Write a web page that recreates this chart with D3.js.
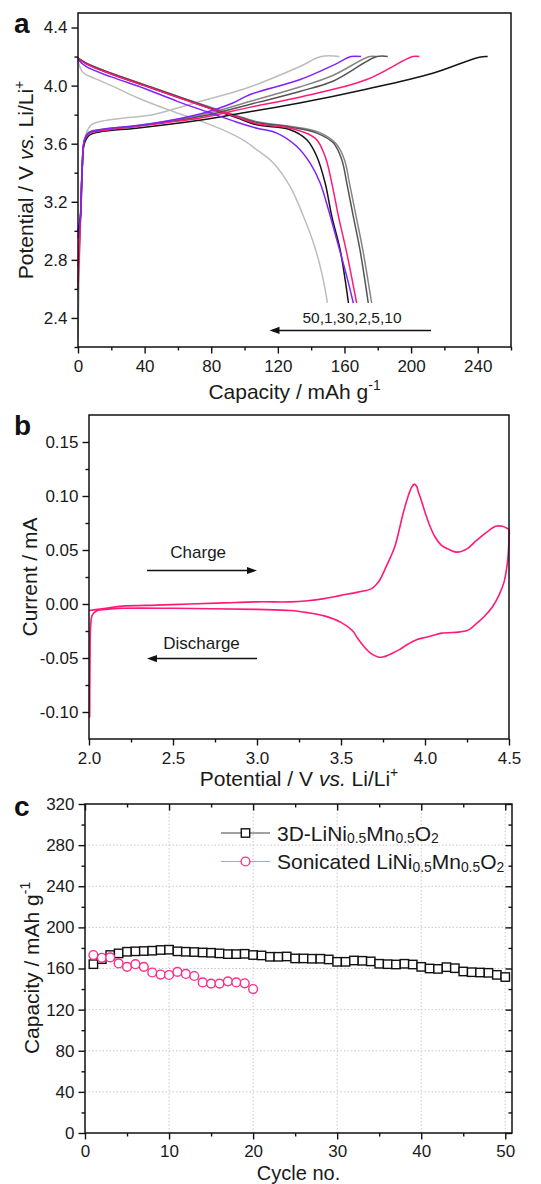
<!DOCTYPE html>
<html>
<head>
<meta charset="utf-8">
<script src="https://cdn.jsdelivr.net/npm/d3@7"></script>
<style>
  body { margin: 0; background: #fff; }
  svg { display: block; font-family: "Liberation Sans", Arial, Helvetica, sans-serif; }
</style>
</head>
<body>
<svg id="fig" width="541" height="1184"></svg>
<script>
// ---------- (a) galvanostatic charge/discharge profiles: [capacity mAh/g, potential V] ----------
const cycleOrderLabel = "50,1,30,2,5,10";

const charge1  = [[0,3.0],[1.5,3.1],[2.5,3.42],[3.8,3.6],[7,3.66],[15,3.685],[35,3.707],[75,3.765],[103,3.82],[133,3.88],[173,3.975],[213,4.085],[241,4.196],[246,4.2]];
const charge2  = [[0,2.6],[1.5,3.07],[2.5,3.42],[3.8,3.62],[6.5,3.67],[15,3.69],[35,3.72],[53,3.745],[75,3.78],[103,3.85],[133,3.92],[173,4.04],[201,4.2],[205,4.2]];
const charge5  = [[0,2.75],[1.5,3.1],[2.5,3.42],[3.8,3.62],[6.5,3.675],[15,3.695],[35,3.72],[75,3.79],[103,3.87],[133,3.96],[153,4.03],[179.5,4.2],[186,4.2]];
const charge10 = [[0,2.65],[1.5,3.1],[2.5,3.42],[3.8,3.62],[6.5,3.68],[15,3.70],[35,3.725],[75,3.80],[103,3.89],[133,3.99],[153,4.07],[175,4.2],[179,4.2]];
const charge30 = [[0,2.95],[1.5,3.1],[2.5,3.42],[3.8,3.62],[6.4,3.673],[15,3.70],[35,3.723],[55,3.76],[75,3.81],[93,3.88],[103,3.937],[133,4.04],[155,4.15],[164,4.2],[170,4.2]];
const charge50 = [[0,2.25],[1.5,3.1],[2.8,3.5],[4.5,3.66],[8,3.73],[14,3.755],[30,3.78],[45,3.80],[70,3.88],[103,3.99],[133,4.13],[146,4.2],[157,4.2]];

const discharge1  = [[0,4.19],[5,4.15],[20,4.08],[40,4.0],[60,3.92],[80,3.84],[95,3.78],[107.4,3.73],[127.4,3.696],[137.4,3.627],[143.4,3.512],[148.4,3.329],[152.4,3.099],[157.4,2.87],[162.4,2.503]];
const discharge2  = [[0,4.19],[5,4.15],[20,4.08],[40,4.0],[60,3.92],[80,3.84],[95,3.785],[107.4,3.737],[127.4,3.707],[142.4,3.638],[148.4,3.512],[152.4,3.329],[156.4,3.099],[161.4,2.847],[167.3,2.503]];
const discharge5  = [[0,4.19],[5,4.155],[20,4.085],[40,4.005],[60,3.925],[80,3.845],[95,3.79],[107.4,3.746],[127.4,3.714],[143.4,3.673],[153.4,3.604],[158.4,3.489],[161.4,3.329],[165.3,3.099],[169.3,2.87],[174.3,2.503]];
const discharge10 = [[0,4.19],[5,4.155],[20,4.085],[40,4.005],[60,3.925],[80,3.85],[95,3.795],[107.4,3.751],[127.4,3.72],[144.5,3.68],[155,3.60],[160,3.49],[163,3.329],[167,3.099],[171,2.87],[176.3,2.503]];
const discharge30 = [[0,4.18],[5,4.13],[20,4.06],[40,3.98],[60,3.89],[80,3.81],[95,3.75],[107.4,3.707],[119.4,3.673],[131.4,3.581],[139.4,3.466],[145.4,3.329],[150.4,3.145],[155.4,2.938],[161.4,2.686],[165.3,2.503]];
const discharge50 = [[0,4.17],[3,4.09],[10,4.05],[20,4.0],[35,3.92],[55,3.83],[75,3.75],[90,3.68],[100,3.62],[107.4,3.558],[117.4,3.466],[127.4,3.305],[135.4,3.099],[141.4,2.916],[146.4,2.709],[149.8,2.503]];

const capacityTicksA = [0, 40, 80, 120, 160, 200, 240];
const capacityMinorA = [20, 60, 100, 140, 180, 220, 260];
const potentialTicksA = [2.4, 2.8, 3.2, 3.6, 4.0, 4.4];
const potentialMinorA = [2.2, 2.6, 3.0, 3.4, 3.8, 4.2];

// ---------- (b) cyclic voltammogram: potential V, current mA (one closed scan) ----------
const cvPotential = [2.000,2.05,2.1,2.2,2.4,2.6,2.8,3.0,3.2,3.3,3.4,3.5,3.6,3.68,3.71,3.73,3.77,3.82,3.87,3.9,3.92,3.936,3.95,3.96,3.98,4.0,4.03,4.06,4.1,4.15,4.19,4.25,4.3,4.33,4.38,4.42,4.46,4.49,4.5,
                     4.5,4.495,4.485,4.47,4.44,4.4,4.35,4.3,4.26,4.24,4.2,4.1,4.05,4.0,3.95,3.9,3.85,3.8,3.75,3.72,3.68,3.64,3.6,3.57,3.5,3.4,3.3,3.2,3.0,2.5,2.2,2.1,2.05,2.02,2.01,2.006,2.004];
const cvCurrent   = [-0.006,-0.005,-0.004,-0.002,-0.001,0.000,0.001,0.002,0.002,0.003,0.005,0.008,0.011,0.014,0.018,0.022,0.035,0.053,0.084,0.100,0.108,0.111,0.109,0.104,0.095,0.085,0.072,0.062,0.054,0.050,0.048,0.051,0.058,0.062,0.068,0.072,0.072,0.070,0.069,
                     0.060,0.045,0.032,0.020,0.008,-0.003,-0.012,-0.019,-0.024,-0.025,-0.026,-0.027,-0.029,-0.031,-0.033,-0.037,-0.042,-0.046,-0.049,-0.049,-0.046,-0.040,-0.032,-0.025,-0.017,-0.011,-0.008,-0.006,-0.005,-0.004,-0.004,-0.005,-0.006,-0.010,-0.020,-0.050,-0.105];

const potentialTicksB = [2.0, 2.5, 3.0, 3.5, 4.0, 4.5];
const potentialMinorB = [2.25, 2.75, 3.25, 3.75, 4.25];
const currentTicksB = [-0.10, -0.05, 0.00, 0.05, 0.10, 0.15];
const currentMinorB = [-0.075, -0.025, 0.025, 0.075, 0.125];

// ---------- (c) cycling performance ----------
const cycles3D = d3.range(1, 51);
const capacity3D = [164.2,169.1,173.1,174.7,176.3,176.7,177.0,177.3,178.0,178.3,
                    176.7,176.3,176.0,175.6,175.3,174.7,174.0,174.0,174.3,173.1,
                    172.7,171.4,171.4,171.7,169.8,169.8,169.5,169.5,168.8,166.5,
                    166.5,167.8,167.5,166.9,164.6,164.2,163.9,164.6,163.9,161.6,
                    160.0,159.6,161.3,160.3,157.1,156.4,156.1,155.8,153.8,151.7];
const cyclesSonic = d3.range(1, 21);
const capacitySonic = [173.1,170.4,170.8,164.9,161.6,164.2,161.6,156.1,154.1,153.7,
                       156.7,154.7,152.7,146.5,145.3,145.3,147.5,146.5,145.6,140.0];
const cycleTicksC = [0, 10, 20, 30, 40, 50];
const cycleMinorC = [5, 15, 25, 35, 45];
const capacityTicksC = [0, 40, 80, 120, 160, 200, 240, 280, 320];
const capacityMinorC = [20, 60, 100, 140, 180, 220, 260, 300];

// ---------- drawing ----------
const svg = d3.select("#fig");
const TICK_FS = 17, TITLE_FS = 21;
const cyclePalette = { "1": "#141414", "2": "#ff1a78", "5": "#545454", "10": "#858585", "30": "#7f22ff", "50": "#bdbdbd" };
const pink = "#ff1a78";

// text with super/subscript pieces
function rich(sel, parts, fs) {
  let cur = 0;
  parts.forEach(p => {
    const target = p.sup ? -0.42 * fs : p.sub ? 0.14 * fs : 0;
    const ts = sel.append("tspan").text(p.t).attr("dy", target - cur);
    cur = target;
    if (p.sup || p.sub) ts.attr("font-size", fs * 0.66);
    if (p.it) ts.attr("font-style", "italic");
  });
  return sel;
}

function axes(g, x, y, o) {
  const [xl, xr] = x.range(), [yb, yt] = y.range();
  if (o.grid) {
    const gg = g.append("g").attr("stroke", "#c8c8c8").attr("stroke-width", 1).attr("stroke-dasharray", "1.5,2");
    gg.selectAll(".gx").data(o.xMajor.filter(v => x(v) > xl + 1 && x(v) < xr - 1)).join("line")
      .attr("x1", d => x(d)).attr("x2", d => x(d)).attr("y1", yb).attr("y2", yt);
    gg.selectAll(".gy").data(o.yMajor.filter(v => y(v) < yb - 1 && y(v) > yt + 1)).join("line")
      .attr("y1", d => y(d)).attr("y2", d => y(d)).attr("x1", xl).attr("x2", xr);
  }
  const bx = g.append("g").attr("transform", `translate(0,${yb})`);
  bx.append("g").call(d3.axisBottom(x).tickValues(o.xMinor).tickSize(3.5).tickFormat(""));
  bx.append("g").call(d3.axisBottom(x).tickValues(o.xMajor).tickSize(6.5).tickPadding(o.xPad ?? 6).tickFormat(o.xFmt));
  const ly = g.append("g").attr("transform", `translate(${xl},0)`);
  ly.append("g").call(d3.axisLeft(y).tickValues(o.yMinor).tickSize(3.5).tickFormat(""));
  ly.append("g").call(d3.axisLeft(y).tickValues(o.yMajor).tickSize(6.5).tickPadding(4).tickFormat(o.yFmt));
  if (o.mirror) {
    const tx = g.append("g").attr("transform", `translate(0,${yt})`);
    tx.append("g").call(d3.axisTop(x).tickValues(o.xMinor).tickSize(-3.5).tickFormat(""));
    tx.append("g").call(d3.axisTop(x).tickValues(o.xMajor).tickSize(-6.5).tickFormat(""));
    const ry = g.append("g").attr("transform", `translate(${xr},0)`);
    ry.append("g").call(d3.axisRight(y).tickValues(o.yMinor).tickSize(-3.5).tickFormat(""));
    ry.append("g").call(d3.axisRight(y).tickValues(o.yMajor).tickSize(-6.5).tickFormat(""));
  }
  g.selectAll(".domain").remove();
  g.selectAll(".tick line").attr("stroke", "#111").attr("stroke-width", 1.4);
  g.selectAll(".tick text").attr("font-size", TICK_FS).attr("fill", "#1a1a1a")
    .attr("font-family", '"Liberation Sans", Arial, sans-serif');
  g.append("rect").attr("x", xl).attr("y", yt).attr("width", xr - xl).attr("height", yb - yt)
    .attr("fill", "none").attr("stroke", "#111").attr("stroke-width", 1.5);
}

function arrow(g, x1, y1, x2, y2) {
  const ang = Math.atan2(y2 - y1, x2 - x1), L = 10, Wd = 3.6;
  g.append("line").attr("x1", x1).attr("y1", y1).attr("x2", x2 - Math.cos(ang) * (L - 2)).attr("y2", y2 - Math.sin(ang) * (L - 2))
    .attr("stroke", "#111").attr("stroke-width", 1.6);
  const bx = x2 - Math.cos(ang) * L, by = y2 - Math.sin(ang) * L;
  const px = -Math.sin(ang) * Wd, py = Math.cos(ang) * Wd;
  g.append("path").attr("d", `M${x2},${y2}L${bx + px},${by + py}L${bx - px},${by - py}Z`).attr("fill", "#111");
}

function panelLetter(t, x, y) {
  svg.append("text").attr("x", x).attr("y", y).attr("font-size", 28).attr("font-weight", "bold").attr("fill", "#111").text(t);
}

// ===== Panel (a) =====
{
  const x = d3.scaleLinear().domain([0, 260]).range([78, 511]);
  const y = d3.scaleLinear().domain([2.2, 4.5]).range([347, 13]);
  const g = svg.append("g");
  const line = d3.line().x(d => x(d[0])).y(d => y(d[1])).curve(d3.curveCatmullRom.alpha(0.5));
  const curves = [
    ["50", charge50, discharge50], ["10", charge10, discharge10], ["5", charge5, discharge5],
    ["1", charge1, discharge1], ["2", charge2, discharge2], ["30", charge30, discharge30]
  ];
  const cg = g.append("g").attr("fill", "none").attr("stroke-width", 1.5);
  curves.forEach(([name, ch, dis]) => {
    cg.append("path").attr("d", line(ch)).attr("stroke", cyclePalette[name]);
    cg.append("path").attr("d", line(dis)).attr("stroke", cyclePalette[name]);
  });
  axes(g, x, y, {
    xMajor: capacityTicksA, xMinor: capacityMinorA, yMajor: potentialTicksA, yMinor: potentialMinorA,
    xFmt: d3.format("d"), yFmt: d => d.toFixed(1)
  });
  arrow(g, x(212), y(2.314), x(115), y(2.314));
  g.append("text").attr("x", x(164.5)).attr("y", y(2.367)).attr("text-anchor", "middle")
    .attr("font-size", 15.5).attr("fill", "#1a1a1a").text(cycleOrderLabel);
  rich(g.append("text").attr("x", (78 + 511) / 2).attr("y", 399).attr("text-anchor", "middle")
    .attr("font-size", TITLE_FS).attr("fill", "#1a1a1a"),
    [{ t: "Capacity / mAh g" }, { t: "-1", sup: true }], TITLE_FS);
  rich(g.append("text").attr("transform", "translate(33,180) rotate(-90)").attr("text-anchor", "middle")
    .attr("font-size", TITLE_FS).attr("fill", "#1a1a1a"),
    [{ t: "Potential / V " }, { t: "vs.", it: true }, { t: " Li/Li" }, { t: "+", sup: true }], TITLE_FS);
  panelLetter("a", 14, 33);
}

// ===== Panel (b) =====
{
  const x = d3.scaleLinear().domain([2.0, 4.5]).range([89, 509]);
  const y = d3.scaleLinear().domain([-0.125, 0.175]).range([739, 415]);
  const g = svg.append("g");
  const pts = cvPotential.map((v, i) => [v, cvCurrent[i]]);
  g.append("path").attr("d", d3.line().x(d => x(d[0])).y(d => y(d[1])).curve(d3.curveCatmullRom.alpha(0.5))(pts))
    .attr("fill", "none").attr("stroke", pink).attr("stroke-width", 1.6);
  axes(g, x, y, {
    xMajor: potentialTicksB, xMinor: potentialMinorB, yMajor: currentTicksB, yMinor: currentMinorB,
    xFmt: d => d.toFixed(1), yFmt: d => d.toFixed(2)
  });
  g.append("text").attr("x", x(2.65)).attr("y", y(0.0425)).attr("text-anchor", "middle")
    .attr("font-size", 17).attr("fill", "#1a1a1a").text("Charge");
  arrow(g, x(2.345), y(0.031), x(3.0), y(0.031));
  g.append("text").attr("x", x(2.67)).attr("y", y(-0.0418)).attr("text-anchor", "middle")
    .attr("font-size", 17).attr("fill", "#1a1a1a").text("Discharge");
  arrow(g, x(3.0), y(-0.0505), x(2.345), y(-0.0505));
  rich(g.append("text").attr("x", 299).attr("y", 786).attr("text-anchor", "middle")
    .attr("font-size", TITLE_FS).attr("fill", "#1a1a1a"),
    [{ t: "Potential / V " }, { t: "vs.", it: true }, { t: " Li/Li" }, { t: "+", sup: true }], TITLE_FS);
  g.append("text").attr("transform", "translate(37,577) rotate(-90)").attr("text-anchor", "middle")
    .attr("font-size", TITLE_FS).attr("fill", "#1a1a1a").text("Current / mA");
  panelLetter("b", 14, 435);
}

// ===== Panel (c) =====
{
  const x = d3.scaleLinear().domain([0, 50.8]).range([85, 512]);
  const y = d3.scaleLinear().domain([0, 320]).range([1133, 804]);
  const g = svg.append("g");
  axes(g, x, y, {
    xMajor: cycleTicksC, xMinor: cycleMinorC, yMajor: capacityTicksC, yMinor: capacityMinorC,
    xFmt: d3.format("d"), yFmt: d3.format("d"), grid: true, mirror: true, xPad: 5
  });
  const d3D = cycles3D.map((c, i) => [c, capacity3D[i]]);
  const dS = cyclesSonic.map((c, i) => [c, capacitySonic[i]]);
  const ln = d3.line().x(d => x(d[0])).y(d => y(d[1]));
  g.append("path").attr("d", ln(d3D)).attr("fill", "none").attr("stroke", "#333").attr("stroke-width", 1);
  g.append("path").attr("d", ln(dS)).attr("fill", "none").attr("stroke", "#ff7fb5").attr("stroke-width", 1);
  const s = 8.4;
  g.selectAll(".sq").data(d3D).join("rect")
    .attr("x", d => x(d[0]) - s / 2).attr("y", d => y(d[1]) - s / 2).attr("width", s).attr("height", s)
    .attr("fill", "#fff").attr("stroke", "#111").attr("stroke-width", 1.4);
  g.selectAll(".ci").data(dS).join("circle")
    .attr("cx", d => x(d[0])).attr("cy", d => y(d[1])).attr("r", 4.4)
    .attr("fill", "#fff").attr("stroke", "#ff2d8a").attr("stroke-width", 1.4);

  // legend
  const lg = g.append("g");
  const rows = [
    { y: 833, stroke: "#444", mark: "sq", parts: [{ t: "3D-LiNi" }, { t: "0.5", sub: true }, { t: "Mn" }, { t: "0.5", sub: true }, { t: "O" }, { t: "2", sub: true }] },
    { y: 861.5, stroke: "#ff7fb5", mark: "ci", parts: [{ t: "Sonicated LiNi" }, { t: "0.5", sub: true }, { t: "Mn" }, { t: "0.5", sub: true }, { t: "O" }, { t: "2", sub: true }] }
  ];
  rows.forEach(r => {
    lg.append("line").attr("x1", 221).attr("x2", 270).attr("y1", r.y).attr("y2", r.y).attr("stroke", r.stroke).attr("stroke-width", 1.2);
    if (r.mark === "sq") lg.append("rect").attr("x", 245.5 - 4.2).attr("y", r.y - 4.2).attr("width", 8.4).attr("height", 8.4)
      .attr("fill", "#fff").attr("stroke", "#111").attr("stroke-width", 1.4);
    else lg.append("circle").attr("cx", 245.5).attr("cy", r.y).attr("r", 4.4)
      .attr("fill", "#fff").attr("stroke", "#ff2d8a").attr("stroke-width", 1.4);
    rich(lg.append("text").attr("x", 277).attr("y", r.y + 7.5).attr("font-size", 21).attr("fill", "#1a1a1a"), r.parts, 21);
  });

  g.append("text").attr("x", (85 + 512) / 2).attr("y", 1180).attr("text-anchor", "middle")
    .attr("font-size", 20).attr("fill", "#1a1a1a").text("Cycle no.");
  rich(g.append("text").attr("transform", "translate(39,968) rotate(-90)").attr("text-anchor", "middle")
    .attr("font-size", TITLE_FS).attr("fill", "#1a1a1a"),
    [{ t: "Capacity / mAh g" }, { t: "-1", sup: true }], TITLE_FS);
  panelLetter("c", 14, 816);
}
</script>
</body>
</html>
